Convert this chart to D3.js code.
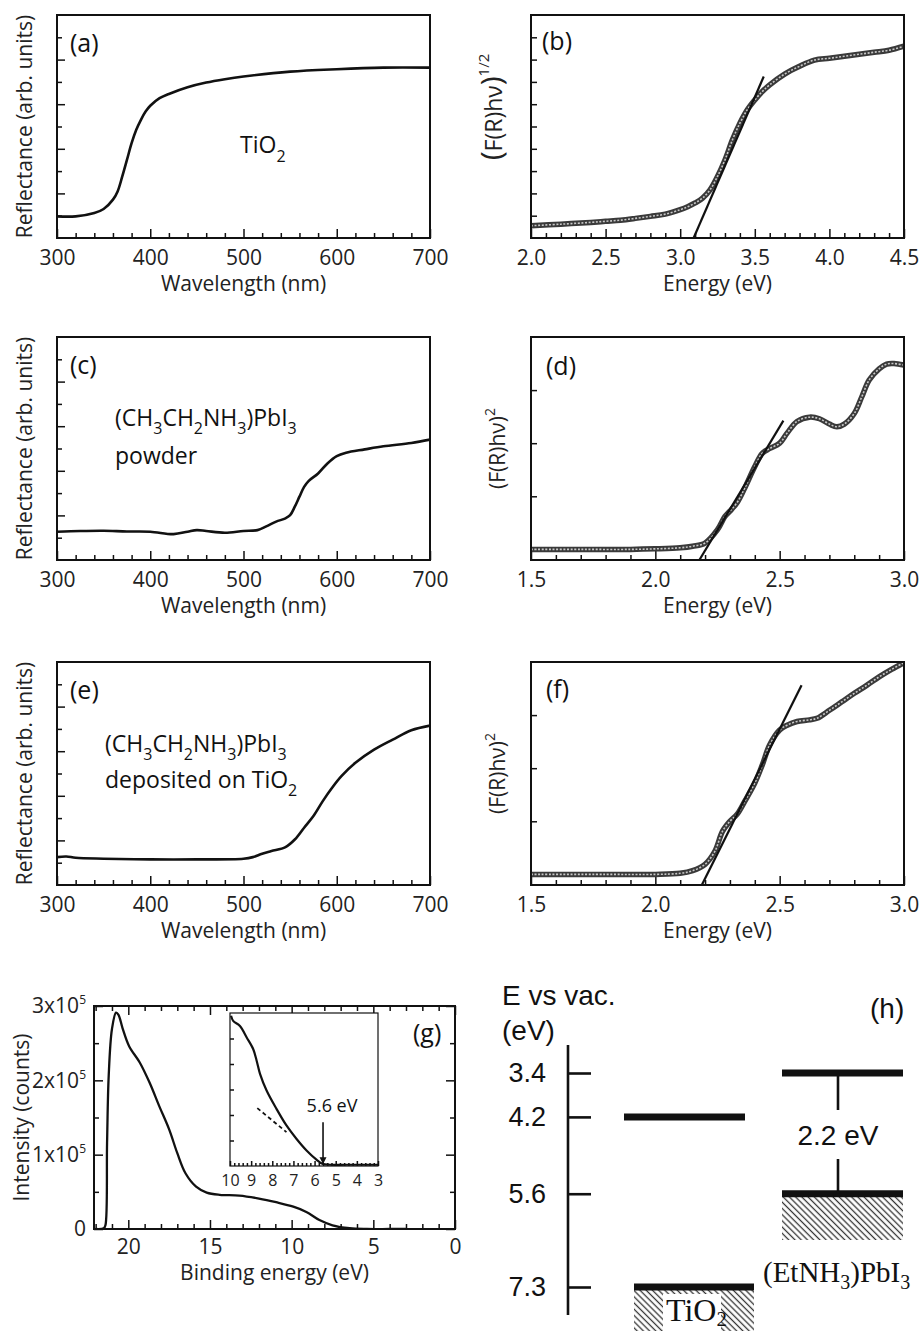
<!DOCTYPE html>
<html>
<head>
<meta charset="utf-8">
<script src="https://cdn.jsdelivr.net/npm/d3@7"></script>
<style>
  body { margin: 0; background: #fff; }
  svg { display: block; font-family: 'Open Sans', sans-serif; }
</style>
</head>
<body>
<svg id="fig" width="921" height="1331"></svg>
<script>
// ---- data ----
// (a) TiO2 reflectance
const aWave = [300, 320, 340, 350, 360, 365, 370, 375, 380, 385, 390, 395, 400, 410, 420, 440, 460, 480, 500, 550, 600, 650, 700];
const aRefl = [0.97, 0.97, 1.12, 1.3, 1.72, 2.09, 2.76, 3.5, 4.25, 4.85, 5.3, 5.67, 5.93, 6.27, 6.46, 6.76, 6.97, 7.12, 7.24, 7.46, 7.57, 7.64, 7.64];

// (b) TiO2 Tauc plot
const bEnergy = [2.0, 2.2, 2.4, 2.5, 2.6, 2.7, 2.8, 2.9, 3.0, 3.05, 3.1, 3.15, 3.2, 3.25, 3.3, 3.35, 3.4, 3.45, 3.5, 3.55, 3.6, 3.7, 3.8, 3.9, 4.0, 4.1, 4.2, 4.3, 4.4, 4.5];
const bTauc = [0.55, 0.62, 0.7, 0.75, 0.8, 0.88, 0.97, 1.07, 1.27, 1.4, 1.57, 1.79, 2.16, 2.76, 3.5, 4.4, 5.15, 5.75, 6.19, 6.57, 6.87, 7.35, 7.7, 7.98, 8.06, 8.15, 8.24, 8.33, 8.42, 8.6];
const bFitE = [3.09, 3.56];
const bFitT = [0, 7.24];

// (c) perovskite powder reflectance
const cWave = [300, 325, 350, 375, 400, 425, 440, 450, 460, 480, 500, 515, 525, 535, 545, 550, 555, 560, 565, 570, 580, 590, 600, 610, 630, 650, 680, 700];
const cRefl = [1.27, 1.3, 1.31, 1.28, 1.27, 1.16, 1.27, 1.34, 1.3, 1.22, 1.3, 1.34, 1.52, 1.72, 1.87, 2.01, 2.39, 2.84, 3.28, 3.55, 3.88, 4.33, 4.66, 4.81, 4.96, 5.1, 5.25, 5.4];

// (d) powder Tauc plot
const dEnergy = [1.5, 1.7, 1.9, 2.0, 2.1, 2.15, 2.2, 2.25, 2.28, 2.3, 2.33, 2.36, 2.4, 2.43, 2.46, 2.5, 2.53, 2.57, 2.62, 2.66, 2.7, 2.73, 2.76, 2.8, 2.83, 2.86, 2.9, 2.93, 2.96, 3.0];
const dTauc = [0, 0, 0, 0.01, 0.03, 0.06, 0.12, 0.37, 0.62, 0.72, 0.89, 1.16, 1.56, 1.81, 1.9, 2.0, 2.19, 2.41, 2.49, 2.46, 2.36, 2.31, 2.36, 2.56, 2.87, 3.19, 3.4, 3.49, 3.5, 3.47];
const dFitE = [2.177, 2.515];
const dFitT = [-0.2, 2.425];

// (e) perovskite on TiO2 reflectance
const eWave = [300, 310, 320, 350, 400, 450, 500, 510, 520, 530, 545, 555, 565, 575, 585, 595, 605, 620, 640, 660, 680, 700];
const eRefl = [1.25, 1.28, 1.22, 1.18, 1.15, 1.15, 1.18, 1.25, 1.4, 1.52, 1.7, 2.04, 2.57, 3.09, 3.76, 4.36, 4.88, 5.48, 6.07, 6.52, 6.94, 7.15];

// (f) film Tauc plot
const fEnergy = [1.5, 1.8, 2.0, 2.1, 2.15, 2.2, 2.24, 2.27, 2.3, 2.33, 2.36, 2.4, 2.43, 2.46, 2.5, 2.53, 2.57, 2.62, 2.65, 2.7, 2.75, 2.8, 2.85, 2.9, 2.95, 3.0];
const fTauc = [0, 0, 0, 0.02, 0.07, 0.19, 0.44, 0.81, 1.0, 1.14, 1.38, 1.72, 2.06, 2.44, 2.72, 2.81, 2.88, 2.91, 2.94, 3.09, 3.25, 3.41, 3.56, 3.72, 3.86, 3.99];
const fFitE = [2.187, 2.588];
const fFitT = [-0.2, 3.56];

// (g) UPS spectrum (intensity in units of 1e5 counts)
const gBinding = [22, 21.5, 21.4, 21.3, 21.2, 21.0, 20.75, 20.6, 20.35, 19.95, 19.3, 18.7, 18.1, 17.5, 17.0, 16.5, 15.85, 15.2, 14.4, 13.2, 12.0, 10.95, 9.9, 9.1, 8.3, 7.5, 6.45, 5.4, 4, 3];
const gIntensity = [0, 0.01, 0.05, 1.16, 2.06, 2.69, 2.91, 2.88, 2.7, 2.46, 2.24, 1.97, 1.65, 1.34, 1.02, 0.75, 0.57, 0.49, 0.46, 0.45, 0.41, 0.36, 0.30, 0.23, 0.12, 0.05, 0.01, 0, 0, 0];
const gYTicks = [0, 1, 2, 3];
const insetBinding = [9.95, 9.85, 9.53, 9.21, 8.9, 8.74, 8.58, 8.27, 7.8, 7.33, 6.86, 6.38, 5.91, 5.63, 5.28, 4.5, 3.5, 3];
const insetIntensity = [5.89, 5.69, 5.49, 5.04, 4.58, 4.13, 3.61, 2.96, 2.24, 1.59, 1.07, 0.61, 0.25, 0.09, 0.05, 0.05, 0.05, 0.05];
const insetDashE = [8.71, 7.33];
const insetDashI = [2.27, 1.33];
const insetEdge = 5.6;
const insetArrowI = [1.72, 0.07];

// (h) energy diagram
const hTicks = [3.4, 4.2, 5.6, 7.3];
const hCB = [4.2, 3.4];
const hVB = [7.3, 5.6];
const hGap = '2.2 eV';

const wlTicks = [300, 400, 500, 600, 700];

// ---- drawing ----
const svg = d3.select('#fig');
const defs = svg.append('defs');
const INK = '#111';

const hatch = defs.append('pattern')
  .attr('id', 'hatch')
  .attr('patternUnits', 'userSpaceOnUse')
  .attr('width', 4.4).attr('height', 4.4)
  .attr('patternTransform', 'rotate(-45)');
hatch.append('rect').attr('width', 4.4).attr('height', 4.4).attr('fill', '#fff');
hatch.append('line').attr('x1', 2.2).attr('x2', 2.2).attr('y1', 0).attr('y2', 4.4)
  .attr('stroke', '#333').attr('stroke-width', 1.3);

function panel(box, xDom, yDom, id) {
  const g = svg.append('g').attr('transform', `translate(${box.x},${box.y})`);
  const x = d3.scaleLinear().domain(xDom).range([0, box.w]);
  const y = d3.scaleLinear().domain(yDom).range([box.h, 0]);
  defs.append('clipPath').attr('id', 'clip-' + id)
    .append('rect').attr('width', box.w).attr('height', box.h);
  return { g, x, y, w: box.w, h: box.h, clip: `url(#clip-${id})` };
}

function ticks(p, side, values, size, fmt, pad, fs) {
  const vertical = side === 'left' || side === 'right';
  const make = { bottom: d3.axisBottom, top: d3.axisTop, left: d3.axisLeft, right: d3.axisRight }[side];
  const ax = make(vertical ? p.y : p.x)
    .tickValues(values)
    .tickSizeInner(-size)
    .tickSizeOuter(0)
    .tickPadding(pad || 0)
    .tickFormat(fmt || (() => ''));
  const shift = { bottom: `translate(0,${p.h})`, top: 'translate(0,0)', left: 'translate(0,0)', right: `translate(${p.w},0)` }[side];
  const a = p.g.append('g').attr('transform', shift).call(ax)
    .attr('font-family', null).attr('font-size', fs || 21);
  a.select('.domain').remove();
  a.selectAll('line').attr('stroke', INK).attr('stroke-width', 1.5);
  a.selectAll('text').attr('fill', '#222');
  return a;
}

function frame(p, sw) {
  p.g.append('rect').attr('width', p.w).attr('height', p.h)
    .attr('fill', 'none').attr('stroke', INK).attr('stroke-width', sw || 2);
}

function curve(p, xs, ys, width) {
  const line = d3.line().x(d => p.x(d[0])).y(d => p.y(d[1]))
    .curve(d3.curveCatmullRom.alpha(0.5));
  return p.g.append('path').datum(d3.zip(xs, ys)).attr('d', line)
    .attr('fill', 'none').attr('stroke', INK).attr('stroke-width', width || 2.4)
    .attr('stroke-linejoin', 'round').attr('clip-path', p.clip);
}

// open-circle data drawn as a dense band
function band(p, xs, ys) {
  const line = d3.line().x(d => p.x(d[0])).y(d => p.y(d[1]))
    .curve(d3.curveCatmullRom.alpha(0.5));
  const data = d3.zip(xs, ys);
  p.g.append('path').datum(data).attr('d', line).attr('fill', 'none')
    .attr('stroke', '#3a3a3a').attr('stroke-width', 5.5).attr('clip-path', p.clip);
  p.g.append('path').datum(data).attr('d', line).attr('fill', 'none')
    .attr('stroke', '#c8c8c8').attr('stroke-width', 1.6)
    .attr('stroke-dasharray', '2 1.6').attr('clip-path', p.clip);
}

function fitLine(p, xs, ys) {
  p.g.append('line')
    .attr('x1', p.x(xs[0])).attr('y1', p.y(ys[0]))
    .attr('x2', p.x(xs[1])).attr('y2', p.y(ys[1]))
    .attr('stroke', INK).attr('stroke-width', 2.2).attr('clip-path', p.clip);
}

function xTitle(p, text, dy) {
  p.g.append('text').attr('x', p.w / 2).attr('y', p.h + (dy || 53))
    .attr('text-anchor', 'middle').attr('font-size', 21).attr('fill', '#222').text(text);
}

function yTitle(p, dx, cy) {
  return p.g.append('text')
    .attr('transform', `translate(${dx},${cy == null ? p.h / 2 : cy}) rotate(-90)`)
    .attr('text-anchor', 'middle').attr('dy', '0.35em')
    .attr('font-size', 21).attr('fill', '#222');
}

function tag(p, label, dx, dy) {
  p.g.append('text').attr('x', dx).attr('y', dy).attr('font-size', 25)
    .attr('fill', '#111').text(label);
}

// text with subscripts: parts are [string, isSub]
function formula(sel, parts, subSize, shift) {
  let down = false;
  parts.forEach(([s, sub]) => {
    const t = sel.append('tspan').text(s);
    if (sub && !down) { t.attr('dy', shift).attr('font-size', subSize); down = true; }
    else if (sub) { t.attr('font-size', subSize); }
    else if (down) { t.attr('dy', -shift); down = false; }
  });
}

const perovskite = [['(CH', 0], ['3', 1], ['CH', 0], ['2', 1], ['NH', 0], ['3', 1], [')PbI', 0], ['3', 1]];

function reflectancePanel(top, xs, ys, id, label) {
  const p = panel({ x: 57, y: top, w: 373, h: 223 }, [300, 700], [0, 10], id);
  ticks(p, 'bottom', d3.range(300, 701, 20).filter(v => v % 100), 5);
  ticks(p, 'bottom', wlTicks, 9, d3.format('d'), 12);
  ticks(p, 'left', [1, 3, 5, 7, 9], 5);
  ticks(p, 'left', [2, 4, 6, 8], 8);
  curve(p, xs, ys, 2.6);
  frame(p);
  xTitle(p, 'Wavelength (nm)');
  yTitle(p, -32).text('Reflectance (arb. units)');
  tag(p, label, 13, 37);
  return p;
}

function taucPanel(top, xDom, yDom, id) {
  return panel({ x: 531, y: top, w: 373, h: 223 }, xDom, yDom, id);
}

function energyTicks(p, lo, hi) {
  const minor = d3.range(Math.round(lo * 10), Math.round(hi * 10) + 1).filter(v => v % 5).map(v => v / 10);
  const major = d3.range(Math.round(lo * 2), Math.round(hi * 2) + 1).map(v => v / 2);
  ticks(p, 'bottom', minor, 5);
  ticks(p, 'bottom', major, 9, d3.format('.1f'), 12);
  xTitle(p, 'Energy (eV)');
}

// (a)
const pa = reflectancePanel(15, aWave, aRefl, 'a', '(a)');
formula(pa.g.append('text').attr('x', 183).attr('y', 138).attr('font-size', 23).attr('fill', '#111'),
  [['TiO', 0], ['2', 1]], 16, 9);

// (b)
const pb = taucPanel(15, [2.0, 4.5], [0, 10], 'b');
energyTicks(pb, 2.0, 4.5);
ticks(pb, 'left', d3.range(1, 10), 6);
band(pb, bEnergy, bTauc);
fitLine(pb, bFitE, bFitT);
frame(pb);
const bt = yTitle(pb, -37, 92).attr('font-size', 23);
bt.append('tspan').attr('font-size', 30).text('(');
bt.append('tspan').text('F(R)hν');
bt.append('tspan').attr('font-size', 30).text(')');
bt.append('tspan').attr('font-size', 15).attr('dy', -13).text('1/2');
tag(pb, '(b)', 11, 35);

// (c)
const pc = reflectancePanel(337, cWave, cRefl, 'c', '(c)');
formula(pc.g.append('text').attr('x', 58).attr('y', 89).attr('font-size', 23).attr('fill', '#111'), perovskite, 16, 8);
pc.g.append('text').attr('x', 58).attr('y', 127).attr('font-size', 23).attr('fill', '#111').text('powder');

// (d)
const pd = taucPanel(337, [1.5, 3.0], [-0.2, 4.0], 'd');
energyTicks(pd, 1.5, 3.0);
ticks(pd, 'left', [1, 2, 3], 6);
band(pd, dEnergy, dTauc);
fitLine(pd, dFitE, dFitT);
frame(pd);
const dt = yTitle(pd, -33);
dt.append('tspan').text('(F(R)hν)');
dt.append('tspan').attr('font-size', 14).attr('dy', -10).text('2');
tag(pd, '(d)', 15, 38);

// (e)
const pe = reflectancePanel(662, eWave, eRefl, 'e', '(e)');
formula(pe.g.append('text').attr('x', 48).attr('y', 90).attr('font-size', 23).attr('fill', '#111'), perovskite, 16, 8);
formula(pe.g.append('text').attr('x', 48).attr('y', 126).attr('font-size', 23).attr('fill', '#111'),
  [['deposited on TiO', 0], ['2', 1]], 16, 8);

// (f)
const pf = taucPanel(662, [1.5, 3.0], [-0.2, 4.0], 'f');
energyTicks(pf, 1.5, 3.0);
ticks(pf, 'left', [1, 2, 3], 6);
band(pf, fEnergy, fTauc);
fitLine(pf, fFitE, fFitT);
frame(pf);
const ft = yTitle(pf, -33);
ft.append('tspan').text('(F(R)hν)');
ft.append('tspan').attr('font-size', 14).attr('dy', -10).text('2');
tag(pf, '(f)', 15, 36);

// (g)
const pg = panel({ x: 94, y: 1006, w: 361, h: 223 }, [22.1, 0], [0, 3], 'g');
const gMinorX = d3.range(1, 23).filter(v => v % 5);
const gMajorX = [20, 15, 10, 5, 0];
['bottom', 'top'].forEach(s => {
  ticks(pg, s, gMinorX, 5);
  ticks(pg, s, gMajorX, 9, s === 'bottom' ? d3.format('d') : null, 10);
});
['left', 'right'].forEach(s => {
  ticks(pg, s, [0.5, 1.5, 2.5], 5);
  const a = ticks(pg, s, gYTicks, 9, s === 'left' ? d3.format('d') : null, 8);
  if (s === 'left') {
    a.selectAll('text').each(function (d) {
      if (!d) return;
      const t = d3.select(this).text(null);
      t.append('tspan').text(`${d}x10`);
      t.append('tspan').attr('font-size', 12).attr('dy', -9).text('5');
    });
  }
});
curve(pg, gBinding, gIntensity, 2.3);
frame(pg);
xTitle(pg, 'Binding energy (eV)', 51);
yTitle(pg, -72).text('Intensity (counts)');
pg.g.append('text').attr('x', 319).attr('y', 36).attr('font-size', 25).attr('fill', '#111').text('(g)');

// inset
const pi = panel({ x: 230, y: 1013, w: 148, h: 153 }, [10, 3], [0, 6], 'inset');
pi.g.append('rect').attr('width', pi.w).attr('height', pi.h).attr('fill', '#fff');
ticks(pi, 'bottom', d3.range(30, 101, 2).filter(v => v % 10).map(v => v / 10), 3);
ticks(pi, 'bottom', d3.range(3, 11), 5, d3.format('d'), 9, 16);
ticks(pi, 'left', [1, 2, 3, 4, 5], 4);
curve(pi, insetBinding, insetIntensity, 2.2);
pi.g.append('line')
  .attr('x1', pi.x(insetDashE[0])).attr('y1', pi.y(insetDashI[0]))
  .attr('x2', pi.x(insetDashE[1])).attr('y2', pi.y(insetDashI[1]))
  .attr('stroke', INK).attr('stroke-width', 1.8).attr('stroke-dasharray', '4 3');
defs.append('marker').attr('id', 'head').attr('viewBox', '0 0 10 10')
  .attr('refX', 10).attr('refY', 5).attr('markerWidth', 7).attr('markerHeight', 9)
  .attr('orient', 'auto').attr('markerUnits', 'userSpaceOnUse')
  .append('path').attr('d', 'M0,0 L10,5 L0,10 z').attr('fill', INK);
pi.g.append('line')
  .attr('x1', pi.x(insetEdge)).attr('y1', pi.y(insetArrowI[0]))
  .attr('x2', pi.x(insetEdge)).attr('y2', pi.y(insetArrowI[1]))
  .attr('stroke', INK).attr('stroke-width', 1.6).attr('marker-end', 'url(#head)');
pi.g.append('text').attr('x', pi.x(insetEdge) + 9).attr('y', 99).attr('text-anchor', 'middle')
  .attr('font-size', 18).attr('fill', '#111').text(`${insetEdge} eV`);
frame(pi, 1.2);

// (h)
const hy = d3.scaleLinear().domain([3.4, 7.3]).range([1073, 1287]);
const hg = svg.append('g').attr('font-family', "'Liberation Sans', Arial, sans-serif").attr('fill', '#111');
hg.append('line').attr('x1', 568).attr('x2', 568).attr('y1', hy(2.89)).attr('y2', hy(7.81))
  .attr('stroke', INK).attr('stroke-width', 2.6);
const hax = hg.append('g').attr('transform', 'translate(568,0)')
  .call(d3.axisLeft(hy).tickValues(hTicks).tickSizeInner(-23).tickSizeOuter(0).tickPadding(22).tickFormat(d3.format('.1f')))
  .attr('font-family', null).attr('font-size', 27);
hax.select('.domain').remove();
hax.selectAll('line').attr('stroke', INK).attr('stroke-width', 2.6);
hax.selectAll('text').attr('fill', '#111');
hg.append('text').attr('x', 502).attr('y', 1005).attr('font-size', 28).text('E vs vac.');
hg.append('text').attr('x', 502).attr('y', 1040).attr('font-size', 28).text('(eV)');
hg.append('text').attr('x', 870).attr('y', 1018).attr('font-size', 28).text('(h)');

// TiO2 column
const tio2 = { cb: [624, 745], vb: [634, 754] };
hg.append('rect').attr('x', tio2.vb[0]).attr('y', hy(hVB[0])).attr('width', tio2.vb[1] - tio2.vb[0])
  .attr('height', 1331 - hy(hVB[0])).attr('fill', 'url(#hatch)');
hg.append('rect').attr('x', 663).attr('y', hy(hVB[0]) + 7).attr('width', 58).attr('height', 40).attr('fill', '#fff');
[[hCB[0], tio2.cb], [hVB[0], tio2.vb]].forEach(([e, xr]) => {
  hg.append('line').attr('x1', xr[0]).attr('x2', xr[1]).attr('y1', hy(e)).attr('y2', hy(e))
    .attr('stroke', INK).attr('stroke-width', 7);
});
formula(hg.append('text').attr('x', 666).attr('y', 1321).attr('font-family', "'Liberation Serif', serif")
  .attr('font-size', 32),
  [['TiO', 0], ['2', 1]], 21, 5);

// perovskite column
const pvk = [782, 903];
hg.append('rect').attr('x', pvk[0]).attr('y', hy(hVB[1])).attr('width', pvk[1] - pvk[0])
  .attr('height', 1240 - hy(hVB[1])).attr('fill', 'url(#hatch)');
[hCB[1], hVB[1]].forEach(e => {
  hg.append('line').attr('x1', pvk[0]).attr('x2', pvk[1]).attr('y1', hy(e)).attr('y2', hy(e))
    .attr('stroke', INK).attr('stroke-width', 7);
});
hg.append('line').attr('x1', 838).attr('x2', 838).attr('y1', hy(hCB[1])).attr('y2', 1110)
  .attr('stroke', INK).attr('stroke-width', 2.6);
hg.append('line').attr('x1', 838).attr('x2', 838).attr('y1', 1159).attr('y2', hy(hVB[1]))
  .attr('stroke', INK).attr('stroke-width', 2.6);
hg.append('text').attr('x', 838).attr('y', 1145).attr('text-anchor', 'middle').attr('font-size', 28).text(hGap);
formula(hg.append('text').attr('x', 763).attr('y', 1282).attr('font-family', "'Liberation Serif', serif")
  .attr('font-size', 29),
  [['(EtNH', 0], ['3', 1], [')PbI', 0], ['3', 1]], 20, 7);
</script>
</body>
</html>
